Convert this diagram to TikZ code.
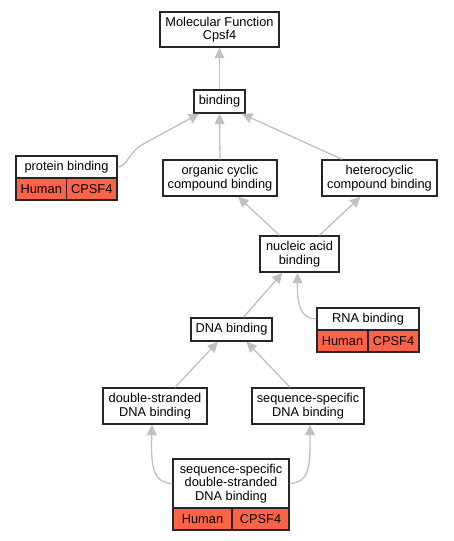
\documentclass[tikz,border=0pt]{standalone}
\usepackage{fontspec}
\setmainfont{Liberation Sans}
\usetikzlibrary{arrows.meta}
\definecolor{edgegray}{RGB}{192,192,192}
\definecolor{cellred}{RGB}{255,99,71}
\tikzset{
  box/.style={draw=black!85, line width=1.4pt, fill=white, inner sep=0pt, align=center,
    font=\fontsize{12.8}{13.6}\selectfont},
  cell/.style={box, fill=cellred},
  edge/.style={draw=edgegray, line width=1.3pt, -{Triangle[length=10.5pt,width=10pt]}},
}
\begin{document}
\begin{tikzpicture}[x=1pt,y=-1pt]
\useasboundingbox (0,0) rectangle (453,541);
% nodes
\node[box, minimum width=119pt, minimum height=35pt] (mf) at (219.5,29.5) {Molecular Function\\Cpsf4};
\node[box, minimum width=51pt, minimum height=23pt] (bind) at (219.5,101.5) {binding};
\node[box, minimum width=101pt, minimum height=22pt] (prot) at (66.5,167) {protein binding};
\node[cell, minimum width=50.5pt, minimum height=22pt] (prothum) at (41.25,189) {Human};
\node[cell, minimum width=50.5pt, minimum height=22pt] (protcpsf) at (91.75,189) {CPSF4};
\node[box, minimum width=114pt, minimum height=36pt] (org) at (220,178) {organic cyclic\\compound binding};
\node[box, minimum width=115pt, minimum height=36pt] (het) at (379.5,178) {heterocyclic\\compound binding};
\node[box, minimum width=79pt, minimum height=36pt] (nuc) at (299.5,254) {nucleic acid\\binding};
\node[box, minimum width=81pt, minimum height=23pt] (dna) at (231.5,329.5) {DNA binding};
\node[box, minimum width=102pt, minimum height=22pt] (rna) at (368,319) {RNA binding};
\node[cell, minimum width=51pt, minimum height=22pt] (rnahum) at (342.5,341) {Human};
\node[cell, minimum width=51pt, minimum height=22pt] (rnacpsf) at (393.5,341) {CPSF4};
\node[box, minimum width=104pt, minimum height=36pt] (ds) at (155,406) {double-stranded\\DNA binding};
\node[box, minimum width=112pt, minimum height=36pt] (ssd) at (308,406) {sequence-specific\\DNA binding};
\node[box, minimum width=116pt, minimum height=49pt] (ssds) at (231,483.5) {sequence-specific\\double-stranded\\DNA binding};
\node[cell, minimum width=59pt, minimum height=22pt] (ssdshum) at (202.5,519) {Human};
\node[cell, minimum width=57pt, minimum height=22pt] (ssdscpsf) at (260.5,519) {CPSF4};
% edges
\draw[edge] (bind.north) -- (mf.south);
\draw[edge] (org.north) -- (bind.south);
\draw[edge] (prot.east) .. controls (128,166) and (128,152) .. (145,143) -- ([xshift=6pt]bind.south west);
\draw[edge] ([xshift=-37.5pt]het.north) -- ([xshift=-4pt]bind.south east);
\draw[edge] ([xshift=-20pt]nuc.north) -- ([xshift=18pt]org.south);
\draw[edge] ([xshift=20pt]nuc.north) -- ([xshift=-19pt]het.south);
\draw[edge] ([xshift=12pt]dna.north) -- ([xshift=-17pt]nuc.south);
\draw[edge] (rna.west) .. controls (302,319) and (297.5,306) .. (297.5,290) -- ([xshift=-2pt]nuc.south);
\draw[edge] ([xshift=20pt]ds.north) -- ([xshift=-13.5pt]dna.south);
\draw[edge] ([xshift=-18pt]ssd.north) -- ([xshift=15pt]dna.south);
\draw[edge] (ssds.west) .. controls (155,483) and (151.5,470) .. (151.5,445) -- ([xshift=-3pt]ds.south);
\draw[edge] (ssds.east) .. controls (307,483) and (310,470) .. (310,445) -- ([xshift=2pt]ssd.south);
\end{tikzpicture}
\end{document}
